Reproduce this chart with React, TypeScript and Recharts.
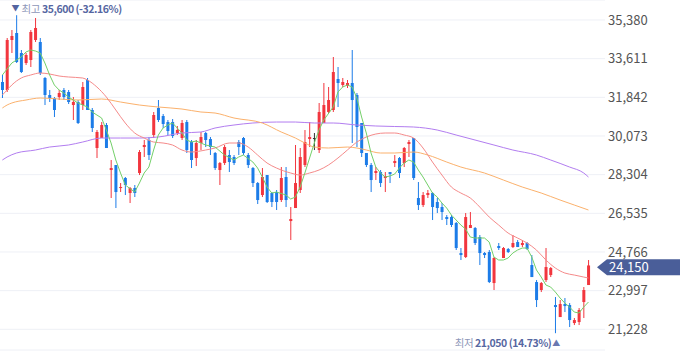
import React from 'react';
import {
  ComposedChart,
  Bar,
  Line,
  XAxis,
  YAxis,
  CartesianGrid,
  ReferenceLine,
  ReferenceDot,
} from 'recharts';

// ---- daily OHLC ----
const opens = [
  32543, 32177, 34465, 34785, 33870, 33412, 33550, 34465, 34373, 32726,
  31948, 31811, 31856, 32177, 32085, 31490, 31628, 31490, 32634, 31262,
  29523, 29980, 30575, 28516, 28745, 27692, 28150, 27464, 27692, 28379,
  29568, 29889, 30118, 31353, 30987, 30712, 30712, 30209, 29980, 30712,
  29797, 29065, 29752, 30209, 29934, 29294, 28516, 28836, 29202, 29111,
  29797, 29980, 29202, 28607, 27921, 27372, 28287, 27464, 27509, 27143,
  28196, 26182, 26777, 27601, 28745, 29934, 29980, 29431, 30667, 31170,
  31262, 32680, 32406, 32360, 32497, 31948, 30667, 29294, 28745, 28379,
  28424, 28150, 28424, 28836, 29065, 28836, 29706, 29980, 27235, 26914,
  27372, 27464, 27052, 26823, 26365, 26365, 26091, 24718, 24535, 25862,
  25862, 25450, 24718, 24764, 23345, 25038, 24489, 24901, 24992, 25221,
  25084, 25176, 24169, 23391, 23025, 23482, 23711, 22338, 21789, 22384,
  22338, 21515, 21560, 22476, 23254,
];
const closes = [
  32177, 34465, 34648, 33458, 33000, 33778, 34831, 35014, 32955, 31948,
  31811, 31262, 32040, 31856, 31628, 31628, 30667, 32314, 31262, 30438,
  30255, 30575, 29523, 28607, 27509, 27738, 27830, 27692, 27464, 29340,
  29660, 29202, 31033, 30804, 30621, 30301, 30072, 30346, 30667, 29431,
  28974, 29752, 30026, 29889, 29568, 28607, 28836, 29568, 28882, 28836,
  29568, 29294, 28745, 27921, 27143, 28196, 27052, 27052, 27052, 28150,
  27143, 26274, 27921, 29111, 29797, 30026, 29980, 31170, 31490, 31719,
  33000, 32497, 32543, 32497, 31719, 30484, 29294, 28745, 28058, 28470,
  27921, 28241, 28333, 28928, 28379, 29523, 29797, 28150, 26914, 27372,
  27464, 26823, 26777, 26594, 26274, 26000, 24947, 24626, 26365, 26000,
  25176, 24718, 24626, 23391, 24489, 24947, 24947, 24764, 25176, 24992,
  25176, 24901, 23619, 22567, 23345, 24077, 24031, 22247, 22384, 22292,
  21652, 21652, 22110, 23025, 24150,
];
const highs = [
  32863, 34556, 34922, 35600, 34007, 33870, 34922, 35472, 34556, 32772,
  32177, 31856, 32177, 32268, 32177, 31856, 31719, 32543, 32726, 31353,
  30346, 30712, 30667, 28974, 28745, 27921, 28196, 27738, 27830, 29431,
  29889, 30026, 31170, 31719, 31079, 30804, 30850, 30530, 30804, 30804,
  29889, 29889, 30255, 30255, 30026, 29340, 28882, 29660, 29431, 29202,
  29889, 30026, 29294, 28653, 27967, 28607, 28287, 27509, 27601, 28653,
  28653, 26823, 29660, 29523, 30346, 30712, 30209, 31582, 32497, 32314,
  33687, 33229, 32726, 32634, 34007, 32040, 30667, 29294, 28836, 28653,
  28516, 28424, 28424, 29202, 29111, 29568, 29889, 29980, 27967, 27509,
  27601, 27509, 27235, 27006, 26457, 26457, 26137, 24947, 26548, 26594,
  25908, 25542, 24764, 24855, 24535, 25176, 24992, 24947, 25542, 25313,
  25313, 25221, 24626, 23482, 23391, 24947, 24077, 22705, 22567, 22659,
  22430, 21743, 22201, 23162, 24398,
];
const lows = [
  31811, 32085, 33870, 33412, 32955, 33321, 33229, 34373, 32863, 31490,
  31628, 30941, 31719, 31719, 31536, 30804, 30621, 31262, 31262, 30255,
  29065, 29980, 29523, 27235, 26777, 27509, 27372, 27006, 27280, 28287,
  29111, 28974, 29980, 30712, 30438, 30118, 29980, 30118, 29889, 29294,
  28607, 28699, 29431, 29568, 29202, 28516, 27830, 28745, 28424, 28745,
  29202, 29202, 28607, 27738, 26960, 27280, 27006, 26823, 26686, 27052,
  26823, 25313, 26777, 27464, 28653, 29568, 29431, 29294, 30667, 31124,
  31170, 31399, 32314, 32268, 29752, 29568, 29111, 28653, 27509, 28058,
  27738, 27509, 27921, 28653, 28150, 28653, 29111, 28058, 26686, 26823,
  27235, 26228, 26548, 26228, 26000, 25908, 24855, 24398, 24489, 25862,
  25084, 24169, 24489, 23345, 23025, 24855, 24489, 24718, 24947, 24992,
  24992, 24855, 23619, 22247, 22933, 23391, 23619, 21050, 21789, 22018,
  21332, 21423, 21423, 21743, 23254,
];

// categories: trading day number, plus empty slots on the right
const days = opens.map((_, i) => i + 1);
const padDays = [126, 127, 128];

// ---- moving averages: [day, value] ----
const ma5Points: [number, number][] = [
  [1, 32863], [2, 33137], [3, 33412], [4, 33550], [5, 33687], [6, 33916], [7, 34007], [8, 33961], [9, 33870],
  [10, 33412], [11, 32863], [12, 32406], [13, 32177], [14, 32040], [15, 31856], [16, 31719],
  [17, 31582], [18, 31490], [19, 31399], [20, 31170], [21, 31033], [22, 30896], [23, 30346],
  [24, 29752], [25, 28974], [26, 28379], [27, 27830], [29, 27509], [30, 27921], [31, 28379],
  [32, 28653], [33, 29431], [34, 30118], [35, 30438], [36, 30575], [37, 30667], [38, 30438],
  [39, 30209], [40, 29889], [41, 29797], [42, 29843], [44, 29660], [46, 29568], [48, 29202],
  [50, 28974], [51, 29111], [52, 29202], [54, 28882], [55, 28607], [56, 28196], [57, 27738],
  [58, 27464], [59, 27509], [61, 27372], [62, 27189], [63, 27280], [64, 27738], [65, 28379],
  [66, 29065], [67, 29752], [68, 30346], [69, 30804], [71, 31399], [72, 32085], [73, 32314],
  [74, 32406], [75, 32314], [76, 31811], [77, 30941], [78, 30209], [79, 29294], [80, 28653],
  [81, 28379], [82, 28196], [83, 28241], [84, 28333], [85, 28607], [86, 28836], [87, 28974],
  [88, 28882], [89, 28516], [90, 28196], [91, 27830], [92, 27464], [93, 27280], [94, 27006],
  [95, 26777], [96, 26457], [97, 26228], [98, 26000], [99, 25816], [100, 25450], [101, 25405],
  [103, 25405], [104, 25221], [105, 24535], [106, 24398], [107, 24398], [108, 24489],
  [109, 24718], [110, 24855], [111, 24947], [112, 24947], [113, 24535], [114, 23940],
  [115, 23619], [116, 23254], [117, 23162], [118, 22933], [119, 22659], [120, 22430],
  [121, 22247], [122, 22018], [123, 21972], [124, 22247], [125, 22476],
];
const ma20Points: [number, number][] = [
  [1, 31948], [2, 32177], [3, 32406], [5, 32726], [7, 32863], [9, 32955], [11, 32909], [13, 32817],
  [15, 32772], [18, 32726], [19, 32634], [21, 32314], [23, 31856], [25, 31262], [27, 30667],
  [29, 30209], [31, 29980], [33, 29797], [35, 29752], [37, 29660], [39, 29431], [41, 29340],
  [44, 29431], [46, 29523], [49, 29752], [51, 29752], [53, 29568], [55, 29202], [57, 28836],
  [59, 28607], [62, 28379], [64, 28287], [66, 28379], [68, 28516], [70, 28745], [72, 29065],
  [74, 29431], [76, 29797], [78, 30026], [80, 30163], [82, 30209], [84, 30209], [86, 30118],
  [88, 29980], [90, 29523], [92, 28882], [94, 28287], [96, 27738], [98, 27464], [100, 27235],
  [102, 26823], [104, 26365], [106, 26000], [108, 25633], [110, 25405], [112, 25176],
  [114, 24855], [116, 24398], [118, 24031], [120, 23803], [122, 23711], [124, 23619],
  [125, 23574],
];
const ma60Points: [number, number][] = [
  [1, 31353], [2, 31490], [3, 31582], [6, 31719], [9, 31811], [13, 31765], [17, 31719], [22, 31765],
  [26, 31628], [30, 31490], [34, 31399], [39, 31307], [43, 31170], [46, 31124], [50, 30896],
  [56, 30667], [60, 30255], [63, 29980], [65, 29752], [67, 29568], [70, 29523], [74, 29568],
  [76, 29523], [78, 29431], [81, 29294], [84, 29294], [88, 29340], [91, 29202], [95, 28882],
  [98, 28653], [103, 28379], [107, 28058], [111, 27738], [115, 27464], [119, 27143],
  [122, 26914], [125, 26686],
];
const ma120Points: [number, number][] = [
  [1, 28974], [2, 29111], [4, 29294], [8, 29431], [11, 29568], [15, 29660], [18, 29797], [22, 29980],
  [26, 29980], [30, 29980], [34, 30026], [39, 30209], [43, 30255], [46, 30438], [50, 30575],
  [54, 30667], [59, 30712], [63, 30712], [67, 30667], [71, 30667], [76, 30575], [80, 30530],
  [84, 30507], [88, 30484], [93, 30346], [97, 30118], [101, 29889], [105, 29660],
  [109, 29431], [114, 29202], [117, 28974], [121, 28653], [124, 28379], [125, 28196],
];

// ---- axis ticks and annotations ----
const yTicks = [21228, 22997, 24766, 26535, 28304, 30073, 31842, 33611, 35380];
const yDomain: [number, number] = [20281, 36295];
const lastPrice = 24150;
const highMark = { day: 4, price: 35600, title: '최고', text: '35,600 (-32.16%)' };
const lowMark = { day: 118, price: 21050, title: '최저', text: '21,050 (14.73%)' };

const UP = '#f2363e';
const DOWN = '#1c7ce8';
const DOJI = '#333333';
const FONT = "'Noto Sans CJK KR', 'Noto Sans', sans-serif";

const toMap = (pts: [number, number][]) => new Map(pts.map(([d, v]) => [d, v]));
const m5 = toMap(ma5Points);
const m20 = toMap(ma20Points);
const m60 = toMap(ma60Points);
const m120 = toMap(ma120Points);

const table = [...days, ...padDays].map((day, i) => {
  const has = i < opens.length;
  return {
    day,
    o: has ? opens[i] : null,
    c: has ? closes[i] : null,
    h: has ? highs[i] : null,
    l: has ? lows[i] : null,
    range: has ? [lows[i], highs[i]] : null,
    ma5: m5.get(day) ?? null,
    ma20: m20.get(day) ?? null,
    ma60: m60.get(day) ?? null,
    ma120: m120.get(day) ?? null,
  };
});

const Candle = (props: any) => {
  const { x, y, width, height, payload } = props;
  if (!payload || payload.o == null) return null;
  const { o, c, h, l } = payload;
  const top = Math.min(y, y + height);
  const hh = Math.abs(height);
  const toY = (v: number) => (h === l ? top : top + ((h - v) / (h - l)) * hh);
  const cx = x + width / 2;
  const color = c > o ? UP : c < o ? DOWN : DOJI;
  const bTop = toY(Math.max(o, c));
  const bBot = toY(Math.min(o, c));
  return (
    <g>
      <line x1={cx} x2={cx} y1={top} y2={top + hh} stroke={color} strokeWidth={1} />
      <rect x={cx - 1.5} y={bTop} width={3} height={Math.max(1, bBot - bTop)} fill={color} />
    </g>
  );
};

const HighLabel = (p: any) => {
  const { cx, cy } = p;
  return (
    <g fontFamily={FONT}>
      <text x={cx - 1} y={cy - 4} fontSize={8} fill="#5464a0" textAnchor="middle">▼</text>
      <text x={cx + 5} y={cy - 2} fontSize={10.5} letterSpacing={-0.45}>
        <tspan fill="#8e97b9">{highMark.title}</tspan>
        <tspan dx={2} fill="#5667a2" fontWeight="bold">{highMark.text}</tspan>
      </text>
    </g>
  );
};

const LowLabel = (p: any) => {
  const { cx, cy } = p;
  return (
    <g fontFamily={FONT}>
      <text x={cx - 4} y={cy + 14} fontSize={10.5} letterSpacing={-0.45} textAnchor="end">
        <tspan fill="#8e97b9">{lowMark.title}</tspan>
        <tspan dx={2} fill="#5667a2" fontWeight="bold">{lowMark.text}</tspan>
      </text>
      <text x={cx + 1} y={cy + 13} fontSize={8} fill="#6a78b0" textAnchor="middle">▲</text>
    </g>
  );
};

const PriceTag = (props: any) => {
  const vb = props.viewBox || {};
  const right = (vb.x ?? 0) + (vb.width ?? 0);
  const y = (vb.y ?? 0) + 1.8;
  const tip = right - 8;
  const top = y - 8;
  const bot = y + 8;
  const pts = `${tip},${y} ${tip + 10},${top} 680,${top} 680,${bot} ${tip + 10},${bot}`;
  return (
    <g>
      <polygon points={pts} fill="#4a5e99" />
      <text x={right + 4} y={y} dy="0.36em" fill="#ffffff" fontSize={13} fontFamily={FONT}>
        {lastPrice.toLocaleString('en-US')}
      </text>
    </g>
  );
};

const lineCommon = {
  strokeWidth: 1,
  dot: false,
  activeDot: false,
  connectNulls: true,
  isAnimationActive: false,
} as const;

export default function App() {
  return (
    <div style={{ position: 'absolute', left: 0, top: 0, width: 680, height: 358, background: '#fff' }}>
      <ComposedChart
        width={680}
        height={358}
        data={table}
        margin={{ top: 0, right: 0, bottom: 8, left: 0 }}
      >
        <CartesianGrid vertical={false} stroke="#eef0f6" />
        <XAxis dataKey="day" type="category" hide />
        <YAxis
          orientation="right"
          width={75}
          domain={yDomain}
          ticks={yTicks}
          allowDataOverflow
          axisLine={false}
          tickLine={false}
          tickSize={3}
          tickMargin={0}
          tick={{ fill: '#555555', fontSize: 13, fontFamily: FONT }}
          tickFormatter={(v: number) => v.toLocaleString('en-US')}
        />
        <Bar dataKey="range" shape={Candle} isAnimationActive={false} />
        <Line dataKey="ma120" stroke="#b27df0" type="monotone" {...lineCommon} />
        <Line dataKey="ma60" stroke="#fbb16c" type="monotone" {...lineCommon} />
        <Line dataKey="ma20" stroke="#f58a8a" type="monotone" {...lineCommon} />
        <Line dataKey="ma5" stroke="#74d06a" type="linear" {...lineCommon} />
        <ReferenceLine y={lastPrice} stroke="none" label={PriceTag} />
        <ReferenceDot x={highMark.day} y={highMark.price} r={0} shape={HighLabel} />
        <ReferenceDot x={lowMark.day} y={lowMark.price} r={0} shape={LowLabel} />
      </ComposedChart>
    </div>
  );
}
